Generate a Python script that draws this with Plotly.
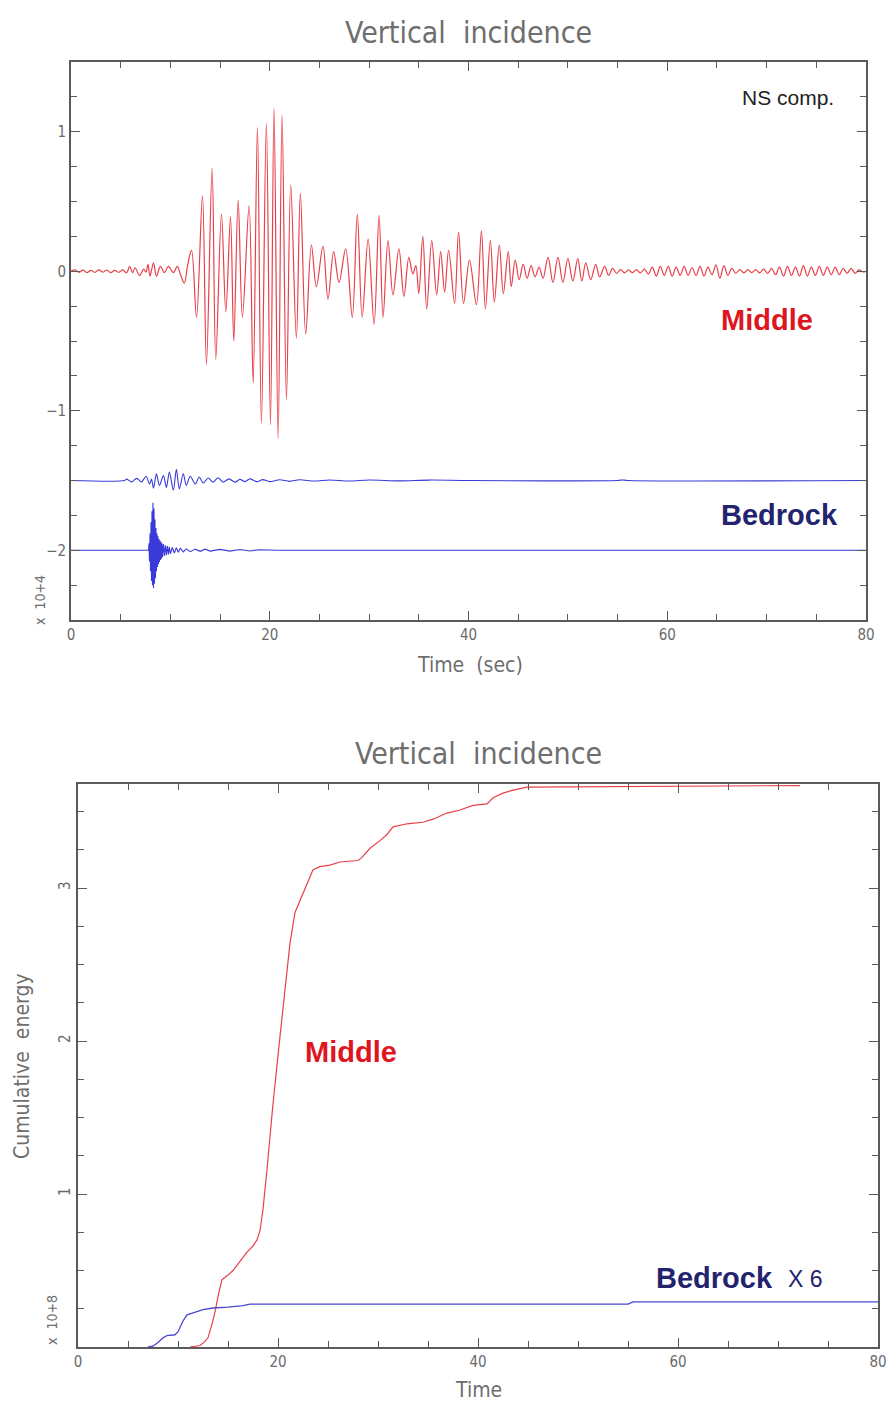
import plotly.graph_objects as go

# ---------------- data ----------------
# Top panel: NS component, "Middle" trace (extrema of the wave, time in s, value x10^4)
middle_t = [0.0, 0.4, 0.8, 1.2, 1.6, 2.0, 2.4, 2.8, 3.2, 3.6, 4.0, 4.4, 4.8, 5.2, 5.6,
            5.9, 6.2, 6.45, 6.9, 7.3, 7.55, 7.75, 7.95, 8.3, 8.6, 9.0, 9.4, 9.8, 10.3, 10.7,
            11.0, 11.4, 11.75,
            12.13, 12.63, 13.23, 13.63, 14.2, 14.57, 15.14, 15.58, 16.05, 16.38, 16.82, 17.25,
            17.92, 18.33, 18.76, 19.16, 19.66, 20.07, 20.43, 20.84, 21.24, 21.68, 22.11, 22.68,
            23.08, 23.62, 24.19, 24.69, 25.36, 25.86, 26.43, 26.97, 27.64, 28.31, 28.81,
            29.3, 29.9, 30.5, 31.0, 31.4, 31.9, 32.4, 33.0, 33.5, 34.0, 34.4, 34.7, 35.0, 35.4,
            35.8, 36.3, 36.8, 37.2, 37.6, 38.0, 38.6, 39.0, 39.5, 40.1, 40.8, 41.3, 41.7, 42.2,
            42.6, 43.1, 43.5, 44.0, 44.3, 44.7,
            45.1, 45.5, 45.9, 46.3, 46.7, 47.1, 47.5, 48.0, 48.5, 49.0, 49.5, 50.0, 50.5, 51.0,
            51.4, 51.8, 52.3, 52.8, 53.2, 53.7, 54.1, 54.5, 54.9, 55.3, 55.7, 56.1, 56.5, 56.9,
            57.3, 57.7, 58.1, 58.5, 58.9, 59.3, 59.7, 60.1, 60.5, 60.9, 61.3, 61.7, 62.1, 62.5,
            62.9, 63.3, 63.7, 64.1, 64.5, 64.9, 65.3, 65.7, 66.1, 66.5, 66.9, 67.3, 67.7, 68.1,
            68.5, 68.9, 69.3, 69.7, 70.1, 70.5, 70.9, 71.3, 71.7, 72.1, 72.5, 72.9, 73.3, 73.7,
            74.1, 74.5, 74.9, 75.3, 75.7, 76.1, 76.5, 76.9, 77.3, 77.7, 78.1, 78.5, 78.9, 79.3,
            79.7, 80.0]
middle_v = [0.0, 0.01, -0.008, 0.008, -0.01, 0.006, -0.008, 0.01, -0.006, 0.008, -0.01, 0.006, -0.008, 0.01, -0.012,
            0.035, -0.01, 0.025, -0.03, 0.015, -0.005, 0.05, -0.035, 0.06, -0.035, 0.035, -0.01, 0.035, -0.01, 0.035,
            -0.02, -0.085, 0.05,
            0.15, -0.33, 0.54, -0.67, 0.74, -0.63, 0.41, -0.29, 0.39, -0.50, 0.51, -0.33,
            0.47, -0.80, 1.03, -1.09, 1.06, -1.10, 1.17, -1.20, 1.12, -0.92, 0.62, -0.48,
            0.56, -0.45, 0.19, -0.11, 0.18, -0.20, 0.14, -0.08, 0.16, -0.33, 0.41,
            -0.33, 0.23, -0.38, 0.40, -0.33, 0.22, -0.17, 0.16, -0.18, 0.10, -0.02, 0.04, -0.16, 0.25,
            -0.27, 0.22, -0.17, 0.14, -0.15, 0.15, -0.23, 0.28, -0.23, 0.08, -0.24, 0.29, -0.27, 0.22,
            -0.22, 0.19, -0.16, 0.14, -0.11, 0.08,
            -0.06, 0.05, -0.05, 0.04, -0.04, 0.03, -0.05, 0.10, -0.08, 0.10, -0.08, 0.09, -0.07, 0.09,
            -0.07, 0.06, -0.06, 0.05, -0.04, 0.035, -0.03, 0.02, -0.015, 0.012, -0.012, 0.01, -0.01, 0.012,
            -0.012, 0.015, -0.02, 0.03, -0.035, 0.035, -0.03, 0.035, -0.035, 0.03, -0.03, 0.035, -0.03, 0.025,
            -0.03, 0.035, -0.035, 0.03, -0.025, 0.045, -0.05, 0.04, -0.03, 0.02, -0.015, 0.012, -0.012, 0.012,
            -0.01, 0.012, -0.012, 0.015, -0.015, 0.02, -0.025, 0.03, -0.035, 0.035, -0.03, 0.03, -0.035, 0.04,
            -0.035, 0.03, -0.03, 0.035, -0.03, 0.03, -0.025, 0.03, -0.025, 0.02, -0.015, 0.02, -0.015, 0.01,
            -0.005, 0.0]

# Bedrock (upper trace, drawn around -1.5)
bedrock_a_t = [0.0, 5.4, 5.6, 6.1, 6.6, 7.1, 7.55, 7.9, 8.1, 8.3, 8.6, 8.9, 9.3, 9.6, 9.9, 10.3, 10.6,
               10.9, 11.3, 11.6, 12.0, 12.5, 12.9, 13.3, 13.8, 14.3, 14.8, 15.3, 15.9, 16.5, 17.0,
               17.5, 18.0, 18.7, 19.3, 20.0, 21.0, 22.0, 23.0, 24.5, 26.0, 28.0, 30.0, 33.0, 36.0,
               40.0, 55.0, 55.5, 56.0, 80.0]
bedrock_a_v = [0.0, 0.0, 0.01, -0.01, 0.015, -0.01, 0.03, -0.025, 0.01, -0.055, 0.048, -0.035, 0.035, -0.05,
               0.06, -0.07, 0.08, -0.06, 0.048, -0.035, 0.03, -0.025, 0.025, -0.018, 0.018, -0.012, 0.02,
               -0.012, 0.012, -0.012, 0.008, -0.008, 0.012, -0.008, 0.006, -0.008, 0.005, -0.006, 0.005,
               -0.004, 0.004, -0.004, 0.004, -0.003, 0.003, 0.0, 0.0, 0.004, 0.0, 0.0]

# Bedrock (lower trace, drawn around -2)
bedrock_b_t = [0.0, 7.8, 7.85, 7.9, 7.95, 8.0, 8.05, 8.1, 8.15, 8.2, 8.25, 8.3, 8.35, 8.4, 8.45, 8.5,
               8.55, 8.6, 8.65, 8.7, 8.75, 8.8, 8.85, 8.9, 8.95, 9.0, 9.05, 9.1, 9.15, 9.2, 9.3, 9.4,
               9.5, 9.6, 9.7, 9.8, 9.9, 10.0, 10.2, 10.4, 10.6, 10.8, 11.0, 11.3, 11.6, 12.0, 12.5,
               13.0, 13.5, 14.0, 15.0, 16.0, 17.0, 18.0, 19.0, 20.7, 80.0]
bedrock_b_v = [0.0, 0.0, 0.05, -0.08, 0.12, -0.15, 0.2, -0.22, 0.28, -0.25, 0.34, -0.27, 0.3, -0.24,
               0.22, -0.2, 0.16, -0.15, 0.12, -0.12, 0.1, -0.1, 0.08, -0.085, 0.07, -0.07, 0.06, -0.06,
               0.05, -0.05, 0.045, -0.04, 0.035, -0.035, 0.03, -0.03, 0.025, -0.025, 0.02, -0.02, 0.018,
               -0.015, 0.015, -0.012, 0.01, -0.01, 0.008, -0.008, 0.008, -0.006, 0.006, -0.006, 0.005,
               -0.005, 0.004, 0.0, 0.0]

BEDROCK_A_OFFSET = -1.5
BEDROCK_B_OFFSET = -2.0

# Bottom panel: cumulative energy (x10^8)
cum_mid_t = [11.2, 12.2, 12.6, 13.0, 13.4, 13.7, 14.1, 14.4, 15.0, 15.5, 16.2, 16.9, 17.5, 17.9, 18.2,
             18.5, 18.9, 19.5, 20.2, 20.7, 21.2, 21.7, 22.2, 22.9, 23.5, 24.2, 25.2, 26.2, 28.0, 28.4,
             29.2, 30.2, 30.9, 31.5, 32.9, 34.5, 35.5, 36.9, 38.2, 39.5, 40.9, 41.5, 42.5, 43.5, 44.9,
             72.2]
cum_mid_v = [0.0, 0.01, 0.03, 0.06, 0.15, 0.23, 0.36, 0.44, 0.47, 0.50, 0.56, 0.62, 0.66, 0.70, 0.76,
             0.90, 1.16, 1.59, 2.03, 2.35, 2.64, 2.84, 2.92, 3.03, 3.12, 3.14, 3.15, 3.17, 3.18, 3.20,
             3.26, 3.31, 3.35, 3.40, 3.42, 3.43, 3.45, 3.49, 3.51, 3.54, 3.55, 3.59, 3.62, 3.64, 3.66,
             3.67]
cum_bed_t = [7.0, 7.5, 8.0, 8.5, 8.9, 9.7, 10.0, 10.5, 10.9, 11.5, 12.5, 13.5, 15.0, 16.5, 17.2, 20.0,
             55.0, 55.5, 80.0]
cum_bed_v = [0.0, 0.005, 0.03, 0.06, 0.075, 0.08, 0.10, 0.17, 0.21, 0.225, 0.245, 0.255, 0.26, 0.27,
             0.28, 0.28, 0.28, 0.295, 0.295]

x_ticks = [0, 20, 40, 60, 80]
top_y_ticks = [-2, -1, 0, 1]
bot_y_ticks = [1, 2, 3]

# ---------------- figure ----------------
W, H = 890, 1403
RED_LINE = "#e8404a"
BLUE_LINE = "#3a3ad8"
RED_TXT = "#e0161e"
NAVY_TXT = "#23236e"
AX = "#5a5a5a"
NARROW = "Liberation Sans Narrow, DejaVu Sans Condensed, Arial Narrow, sans-serif"
TICKFONT = dict(family=NARROW, size=15, color="#6a6a6a")
SANS = "Liberation Sans, Arial, sans-serif"

fig = go.Figure()
fig.add_trace(go.Scatter(x=middle_t, y=middle_v, mode="lines",
                         line=dict(color=RED_LINE, width=1.2, shape="spline", smoothing=1.0),
                         xaxis="x", yaxis="y", showlegend=False))
fig.add_trace(go.Scatter(x=bedrock_a_t, y=[v + BEDROCK_A_OFFSET for v in bedrock_a_v], mode="lines",
                         line=dict(color=BLUE_LINE, width=1.1, shape="spline", smoothing=0.8),
                         xaxis="x", yaxis="y", showlegend=False))
fig.add_trace(go.Scatter(x=bedrock_b_t, y=[v + BEDROCK_B_OFFSET for v in bedrock_b_v], mode="lines",
                         line=dict(color=BLUE_LINE, width=1.1),
                         xaxis="x", yaxis="y", showlegend=False))
fig.add_trace(go.Scatter(x=cum_mid_t, y=cum_mid_v, mode="lines",
                         line=dict(color=RED_LINE, width=1.2),
                         xaxis="x2", yaxis="y2", showlegend=False))
fig.add_trace(go.Scatter(x=cum_bed_t, y=cum_bed_v, mode="lines",
                         line=dict(color="#4848d0", width=1.3),
                         xaxis="x2", yaxis="y2", showlegend=False))


def px_x(p):
    return p / W


def px_y(p):
    return 1 - p / H


common_axis = dict(showgrid=False, zeroline=False, showline=True, linecolor=AX, linewidth=1.6,
                   mirror="ticks", ticks="inside", ticklen=9, tickwidth=1.2, tickcolor=AX,
                   tickfont=TICKFONT, automargin=False)

fig.update_layout(
    width=W, height=H, autosize=False,
    margin=dict(l=0, r=0, t=0, b=0, pad=0, autoexpand=False),
    paper_bgcolor="white", plot_bgcolor="white",
    xaxis=dict(domain=[px_x(71), px_x(866)], anchor="y", range=[0, 80], tickvals=x_ticks,
               minor=dict(dtick=5, tick0=0, ticks="inside", ticklen=6, tickcolor=AX),
               **common_axis),
    yaxis=dict(domain=[px_y(620), px_y(62)], anchor="x", range=[-2.5, 1.5], tickvals=top_y_ticks,
               minor=dict(dtick=0.25, tick0=0, ticks="inside", ticklen=6, tickcolor=AX),
               **common_axis),
    xaxis2=dict(domain=[px_x(78), px_x(878)], anchor="y2", range=[0, 80], tickvals=x_ticks,
                minor=dict(dtick=5, tick0=0, ticks="inside", ticklen=6, tickcolor=AX),
                **common_axis),
    yaxis2=dict(domain=[px_y(1347), px_y(784)], anchor="x2", range=[0, 3.68], tickvals=bot_y_ticks,
                tickangle=-90,
                minor=dict(dtick=0.25, tick0=0, ticks="inside", ticklen=6, tickcolor=AX),
                **common_axis),
)

ann = []


def txt(x, y, s, size, color, family=NARROW, angle=0, weight="normal"):
    ann.append(dict(x=px_x(x), y=px_y(y), xref="paper", yref="paper", text=s, showarrow=False,
                    xanchor="center", yanchor="middle", textangle=angle,
                    font=dict(family=family, size=size, color=color, weight=weight)))


txt(468, 32, "Vertical  incidence", 30, "#6e6e6e")
txt(478, 753, "Vertical  incidence", 30, "#6e6e6e")
txt(470, 665, "Time  (sec)", 21, "#6e6e6e")
txt(478, 1390, "Time", 21, "#6e6e6e")
txt(40, 600, "x  10+4", 14, "#6e6e6e", angle=-90)
txt(52, 1320, "x  10+8", 14, "#6e6e6e", angle=-90)
txt(22, 1066, "Cumulative  energy", 21, "#6e6e6e", angle=-90)
txt(788, 97, "NS comp.", 21, "#222222", family=SANS)
txt(767, 320, "Middle", 29, RED_TXT, family=SANS, weight="bold")
txt(779, 515, "Bedrock", 29, NAVY_TXT, family=SANS, weight="bold")
txt(351, 1052, "Middle", 29, RED_TXT, family=SANS, weight="bold")
txt(714, 1278, "Bedrock", 29, NAVY_TXT, family=SANS, weight="bold")
txt(805, 1279, "X 6", 23, NAVY_TXT, family=SANS)

fig.update_layout(annotations=ann)
fig.write_html("out.html")
